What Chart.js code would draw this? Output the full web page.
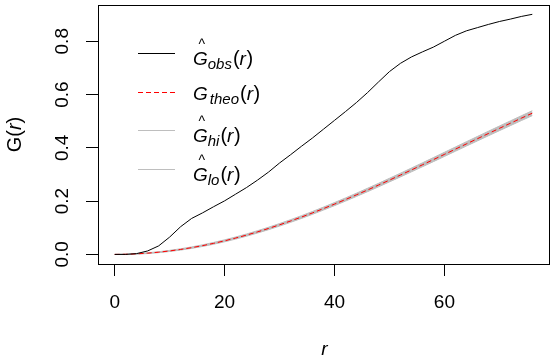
<!DOCTYPE html>
<html>
<head>
<meta charset="utf-8">
<script src="https://cdn.jsdelivr.net/npm/chart.js@4.4.0/dist/chart.umd.min.js"></script>
<style>
  html, body { margin: 0; padding: 0; background: #fff; }
  #wrap { width: 558px; height: 358px; }
</style>
</head>
<body>
<div id="wrap"><canvas id="envChart" width="558" height="358"></canvas></div>
<script>
// --- DATA ---
const rVals = [0, 2, 4, 6, 8, 10, 12, 14, 16, 18, 20, 22, 24, 26, 28, 30, 32, 34, 36, 38,
               40, 42, 44, 46, 48, 50, 52, 54, 56, 58, 60, 62, 64, 66, 68, 70, 72, 74, 76];
const gObs = [0, 0.000, 0.003, 0.013, 0.032, 0.065, 0.104, 0.135, 0.156, 0.179,
              0.201, 0.226, 0.251, 0.279, 0.309, 0.343, 0.374, 0.406, 0.437, 0.470,
              0.503, 0.536, 0.570, 0.607, 0.647, 0.686, 0.717, 0.741, 0.760, 0.778,
              0.800, 0.822, 0.839, 0.851, 0.863, 0.874, 0.883, 0.893, 0.901];
const gTheo = [0, 0.0005, 0.0021, 0.0047, 0.0083, 0.0130, 0.0186, 0.0253, 0.0329, 0.0415,
               0.0509, 0.0613, 0.0725, 0.0846, 0.0974, 0.1110, 0.1253, 0.1402, 0.1558, 0.1720,
               0.1887, 0.2059, 0.2236, 0.2416, 0.2600, 0.2788, 0.2977, 0.3169, 0.3362, 0.3557,
               0.3753, 0.3950, 0.4146, 0.4341, 0.4536, 0.4729, 0.4921, 0.5112, 0.5300];
const gHi = [0, 0.0012, 0.0033, 0.0062, 0.0101, 0.0152, 0.0211, 0.0281, 0.0360, 0.0449,
             0.0546, 0.0653, 0.0767, 0.0890, 0.1020, 0.1158, 0.1303, 0.1454, 0.1612, 0.1776,
             0.1945, 0.2119, 0.2298, 0.2480, 0.2666, 0.2856, 0.3047, 0.3241, 0.3436, 0.3633,
             0.3831, 0.4030, 0.4228, 0.4425, 0.4621, 0.4816, 0.5010, 0.5202, 0.5392];
const gLo = [0, 0.0000, 0.0010, 0.0032, 0.0066, 0.0109, 0.0162, 0.0226, 0.0299, 0.0382,
             0.0473, 0.0574, 0.0684, 0.0802, 0.0928, 0.1062, 0.1203, 0.1351, 0.1505, 0.1665,
             0.1830, 0.2000, 0.2175, 0.2353, 0.2535, 0.2721, 0.2908, 0.3098, 0.3289, 0.3482,
             0.3676, 0.3871, 0.4065, 0.4258, 0.4451, 0.4642, 0.4832, 0.5021, 0.5208];
const xTicks = [0, 20, 40, 60];
const yTicks = [0, 0.2, 0.4, 0.6, 0.8];
const legendSubs = ['obs', 'theo', 'hi', 'lo'];

const FONT = '"Liberation Sans", Arial, sans-serif';
const GREY = '#BEBEBE';

const toPts = ys => rVals.map((r, i) => ({ x: r, y: ys[i] }));

// --- R-style decorations: box, axis titles, plotmath legend ---
function drawG(ctx, x, y, sub, hat) {
    ctx.textAlign = 'left';
    ctx.textBaseline = 'alphabetic';
    ctx.font = 'italic 19px ' + FONT;
    const gw = ctx.measureText('G').width;
    ctx.fillText('G', x, y);
    if (hat) {
        ctx.font = '14px ' + FONT;
        ctx.textAlign = 'center';
        ctx.fillText('^', x + gw / 2 + 1.5, y - 16);
        ctx.textAlign = 'left';
    }
    let cx = x + gw + (hat ? 0 : 2);
    ctx.font = 'italic 15px ' + FONT;
    ctx.fillText(sub, cx, y + 4.5);
    cx += ctx.measureText(sub).width + 1;
    ctx.font = '20px ' + FONT;
    ctx.fillText('(', cx, y + 0.5);
    cx += ctx.measureText('(').width;
    ctx.font = 'italic 19px ' + FONT;
    ctx.fillText('r', cx, y);
    cx += ctx.measureText('r').width + 0.5;
    ctx.font = '20px ' + FONT;
    ctx.fillText(')', cx, y + 0.5);
}

const rDecor = {
    id: 'rDecor',
    afterDraw(chart) {
        const { ctx, chartArea: a } = chart;
        ctx.save();
        ctx.strokeStyle = '#000';
        ctx.lineWidth = 1;
        ctx.strokeRect(Math.round(a.left) + 0.5, Math.round(a.top) + 0.5,
                       Math.round(a.right - a.left), Math.round(a.bottom - a.top));

        // legend
        const styles = [
            { color: '#000', dash: [] },
            { color: '#FF0000', dash: [5, 3] },
            { color: GREY, dash: [] },
            { color: GREY, dash: [] }
        ];
        legendSubs.forEach((sub, i) => {
            const ly = Math.round(a.top + 48 + i * 38.7) + 0.5;
            ctx.beginPath();
            ctx.setLineDash(styles[i].dash);
            ctx.strokeStyle = styles[i].color;
            ctx.moveTo(a.left + 40, ly);
            ctx.lineTo(a.left + 77, ly);
            ctx.stroke();
            ctx.setLineDash([]);
            ctx.fillStyle = '#000';
            const hat = sub !== 'theo';
            drawG(ctx, a.left + 95, ly + (hat ? 11 : 7), sub, hat);
        });

        // x title
        ctx.fillStyle = '#000';
        ctx.font = 'italic 19px ' + FONT;
        ctx.textAlign = 'center';
        ctx.textBaseline = 'alphabetic';
        ctx.fillText('r', (a.left + a.right) / 2 + 1, 355);

        // y title G(r), rotated
        ctx.translate(13.5, (a.top + a.bottom) / 2);
        ctx.rotate(-Math.PI / 2);
        ctx.textAlign = 'left';
        const parts = [['G', ''], ['(', ''], ['r', 'italic '], [')', '']];
        let w = 0;
        parts.forEach(p => { ctx.font = p[1] + '20px ' + FONT; w += ctx.measureText(p[0]).width; });
        let cx = -w / 2;
        parts.forEach(p => {
            ctx.font = p[1] + '20px ' + FONT;
            ctx.fillText(p[0], cx, 7);
            cx += ctx.measureText(p[0]).width;
        });
        ctx.restore();
    }
};

function fixBox(width, height) {
    return scale => {
        if (width !== null) scale.width = width;
        if (height !== null) scale.height = height;
        scale.paddingTop = scale.paddingBottom = scale.paddingLeft = scale.paddingRight = 0;
    };
}

new Chart(document.getElementById('envChart'), {
    type: 'line',
    data: {
        datasets: [
            { label: 'obs', data: toPts(gObs), borderColor: '#000', borderWidth: 1, pointRadius: 0, fill: false },
            { label: 'theo', data: toPts(gTheo), borderColor: '#FF0000', borderWidth: 1, borderDash: [5, 3], pointRadius: 0, fill: false },
            { label: 'hi', data: toPts(gHi), borderColor: GREY, borderWidth: 1, pointRadius: 0, fill: '+1', backgroundColor: GREY },
            { label: 'lo', data: toPts(gLo), borderColor: GREY, borderWidth: 1, pointRadius: 0, fill: false }
        ]
    },
    options: {
        responsive: false,
        animation: false,
        devicePixelRatio: 1,
        layout: { padding: { top: 5, right: 9, left: 0, bottom: 0 } },
        plugins: { legend: { display: false }, tooltip: { enabled: false } },
        elements: { line: { tension: 0 } },
        scales: {
            x: {
                type: 'linear',
                min: -3.04,
                max: 79.04,
                afterBuildTicks: s => { s.ticks = xTicks.map(v => ({ value: v })); },
                afterFit: fixBox(null, 94),
                grid: { drawOnChartArea: false, drawTicks: true, tickLength: 12, color: '#000' },
                border: { display: true, color: '#000' },
                ticks: { color: '#000', font: { family: FONT, size: 19 }, padding: 15, maxRotation: 0, callback: v => String(v) }
            },
            y: {
                type: 'linear',
                min: -0.036,
                max: 0.936,
                afterBuildTicks: s => { s.ticks = yTicks.map(v => ({ value: v })); },
                afterFit: fixBox(98, null),
                grid: { drawOnChartArea: false, drawTicks: true, tickLength: 12, color: '#000' },
                border: { display: true, color: '#000' },
                ticks: { color: '#000', font: { family: FONT, size: 19 }, padding: 10, minRotation: 90, maxRotation: 90, crossAlign: 'center', callback: v => v.toFixed(1) }
            }
        }
    },
    plugins: [rDecor]
});
</script>
</body>
</html>
